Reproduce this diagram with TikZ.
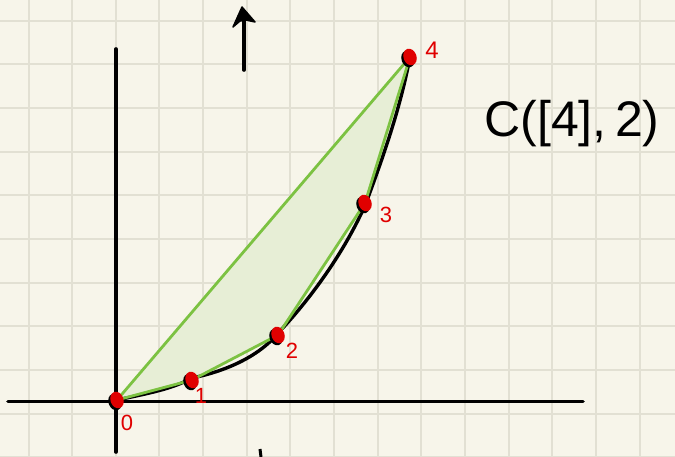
\documentclass[tikz,border=0pt]{standalone}
\usepackage{fontspec}
\setsansfont{Liberation Sans}
\definecolor{paper}{HTML}{F7F5EA}
\definecolor{gridc}{HTML}{E2E0D3}
\definecolor{hullgreen}{HTML}{7CC242}
\definecolor{hullfill}{HTML}{E7EED6}
\definecolor{ptred}{HTML}{E00000}
\usetikzlibrary{shapes.geometric}
\tikzset{
  axis/.style={line width=3.6pt, line cap=round},
  curve/.style={line width=3.4pt, line cap=round},
  hulledge/.style={draw=hullgreen, line width=2.8pt, line join=round},
  pt/.style={ellipse, fill=ptred, minimum width=13pt, minimum height=17pt, inner sep=0pt},
  ptshadow/.style={ellipse, fill=black, minimum width=13pt, minimum height=17pt, inner sep=0pt},
  ptlabel/.style={text=ptred, font=\sffamily\fontsize{22}{22}\selectfont},
}
\begin{document}
\begin{tikzpicture}[x=1pt,y=-1pt]
\fill[paper] (0,0) rectangle (675,457);
\useasboundingbox (0,0) rectangle (675,457);
% grid
\foreach \i in {0,...,14} {
  \draw[gridc, line width=2pt] ({28.5+43.65*\i},0) -- ({28.5+43.65*\i},457);
}
\foreach \j in {0,...,10} {
  \draw[gridc, line width=2pt] (0,{20.7+43.65*\j}) -- (675,{20.7+43.65*\j});
}
% coordinates of points
\coordinate (p0) at (117,400);
\coordinate (p1) at (192,380);
\coordinate (p2) at (278,335);
\coordinate (p3) at (365,203);
\coordinate (p4) at (410,57);
% axes
\coordinate (xa) at (8,401.5);
\coordinate (xb) at (583,401.5);
\coordinate (ya) at (116,49);
\coordinate (yb) at (116,452);
\draw[axis] (xa) -- (xb);
\draw[axis] (ya) -- (yb);
% hull fill
\fill[hullfill] (p0) -- (p1) -- (p2) -- (p3) -- (p4) -- cycle;
% black curve
\draw[curve] (p0) .. controls (150,393) and (172,389) .. ([yshift=2]p1)
  .. controls (222,372) and (258,358) .. ([yshift=2]p2)
  .. controls (308,302) and (345,252) .. ([xshift=1]p3)
  .. controls (382,160) and (400,110) .. (p4);
% hull edges
\draw[hulledge] (p0) -- (p1) -- (p2) -- (p3) -- (p4) -- cycle;
% points
\foreach \p in {p0,p1,p2,p3,p4} {
  \node[ptshadow, rotate=20] at ([xshift=-2,yshift=-2]\p) {};
  \node[pt, rotate=20] at (\p) {};
}
% labels
\node[ptlabel] (l0) at (127,423) {0};
\node[ptlabel] (l1) at (201,396) {1};
\node[ptlabel] (l2) at (292,351) {2};
\node[ptlabel] (l3) at (386,215) {3};
\node[ptlabel, font=\sffamily\fontsize{24}{24}\selectfont] (l4) at (432,50) {4};
% upward arrow
\coordinate (aa) at (244,70);
\coordinate (ab) at (244,16);
\draw[line width=3.6pt, line cap=round] (aa) -- (ab);
\fill[draw, line width=1.5pt, line join=round] (233,27) -- (242,7) -- (255,22) -- (246,20) -- (240,21) -- cycle;
% small mark at bottom
\coordinate (ma) at (260,449);
\coordinate (mb) at (261,457);
\draw[line width=3pt] (ma) -- (mb);
% title
\node[font=\sffamily\fontsize{50}{50}\selectfont] (title) at (572,124) {C([4],\,2)};
\end{tikzpicture}
\end{document}
